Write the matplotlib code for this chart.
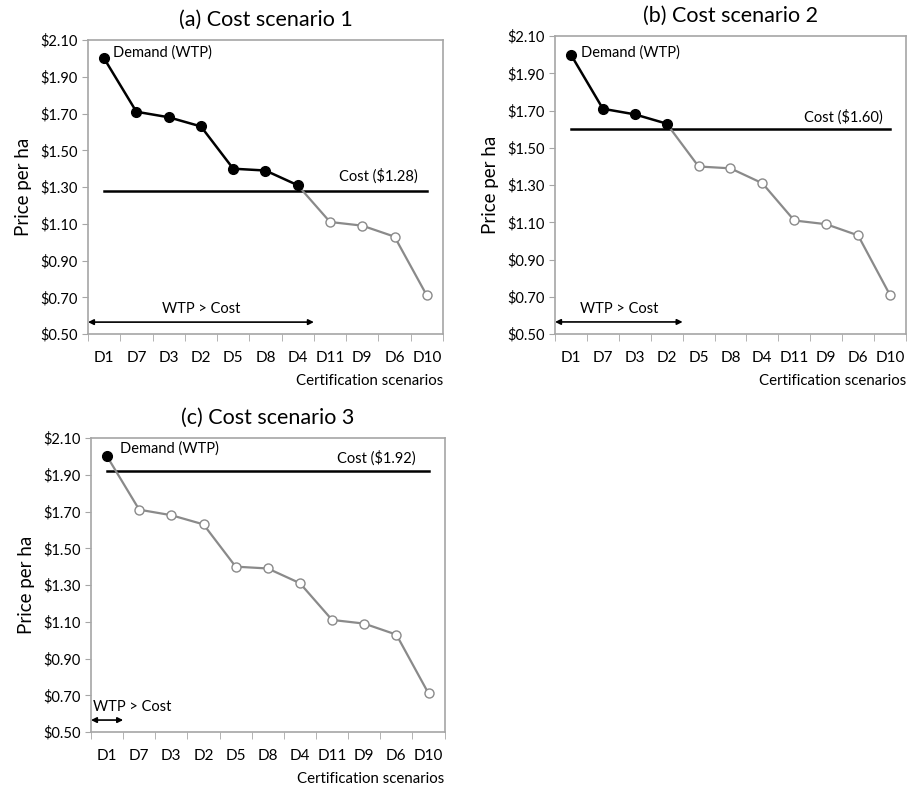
import matplotlib
matplotlib.use("Agg")
from matplotlib import pyplot as plt
import numpy as np

plt.rcParams['font.family'] = ['Lato', 'DejaVu Sans']

scenarios = ['D1', 'D7', 'D3', 'D2', 'D5', 'D8', 'D4', 'D11', 'D9', 'D6', 'D10']
wtp = [2.00, 1.71, 1.68, 1.63, 1.40, 1.39, 1.31, 1.11, 1.09, 1.03, 0.71]
costs = [1.28, 1.60, 1.92]
titles = ['(a) Cost scenario 1', '(b) Cost scenario 2', '(c) Cost scenario 3']
yticks = [0.50, 0.70, 0.90, 1.10, 1.30, 1.50, 1.70, 1.90, 2.10]

# axes rectangles in figure fractions
rects = [[0.0968, 0.575, 0.3905, 0.374],
         [0.6106, 0.575, 0.386, 0.379],
         [0.1001, 0.0687, 0.389, 0.374]]
# label positions in data coords per panel
demand_pos = [(0.27, 2.03), (0.31, 2.01), (0.40, 2.045)]
cost_pos = [(9.73, 1.36), (9.78, 1.665), (9.6, 1.99)]

fig = plt.figure(figsize=(9.09, 7.86), dpi=100)
grey = '#8a8a8a'
frame = '#a6a6a6'
x = np.arange(len(scenarios))

for i, (rect, cost, title) in enumerate(zip(rects, costs, titles)):
    ax = fig.add_axes(rect)
    vals = np.array(wtp)
    n_above = (vals > cost).sum()
    # grey part of demand curve, starting at the last point above cost
    ax.plot(x[n_above - 1:], vals[n_above - 1:], color=grey, lw=1.6, zorder=2)
    ax.plot(x[n_above:], vals[n_above:], 'o', ms=6.5, mfc='white', mec=grey,
            mew=1.0, zorder=3)
    ax.plot(x[:n_above], vals[:n_above], '-o', color='black', lw=1.8, ms=7,
            zorder=4)
    ax.plot([0, len(x) - 1], [cost, cost], color='black', lw=1.8, zorder=1)

    ax.text(demand_pos[i][0], demand_pos[i][1], 'Demand (WTP)', fontsize=10.5,
            ha='left', va='center')
    ax.text(cost_pos[i][0], cost_pos[i][1], 'Cost (${:.2f})'.format(cost),
            fontsize=10.5, ha='right', va='center')

    right_end = n_above - 0.5
    ax.annotate('', xy=(right_end, 0.565), xytext=(-0.5, 0.565),
                arrowprops=dict(arrowstyle='<|-|>', color='black', lw=1.2,
                                mutation_scale=8, shrinkA=0, shrinkB=0))
    if n_above > 1:
        ax.text((right_end - 0.5) / 2, 0.635, 'WTP > Cost', fontsize=10.5,
                ha='center', va='center')
    else:
        ax.text(-0.45, 0.635, 'WTP > Cost', fontsize=10.5, ha='left',
                va='center')

    ax.set_xlim(-0.5, len(x) - 0.5)
    ax.set_ylim(0.5, 2.1)
    ax.set_yticks(yticks)
    ax.set_yticklabels(['${:.2f}'.format(v) for v in yticks], fontsize=10.5)
    ax.set_xticks(x)
    ax.set_xticklabels(scenarios, fontsize=11)
    ax.set_xticks(np.arange(-0.5, len(x)), minor=True)
    ax.tick_params(axis='x', which='major', length=0, pad=12)
    ax.tick_params(axis='x', which='minor', length=5, color=frame)
    ax.tick_params(axis='y', length=4, color=frame)
    for s in ax.spines.values():
        s.set_color(frame)
        s.set_linewidth(1.2)
    ax.set_ylabel('Price per ha', fontsize=13.5, labelpad=6)
    ax.set_xlabel('Certification scenarios', fontsize=10.8, loc='right',
                  labelpad=7)
    ax.set_title(title, fontsize=15.5, pad=10)

fig.savefig('out.png', dpi=100)
